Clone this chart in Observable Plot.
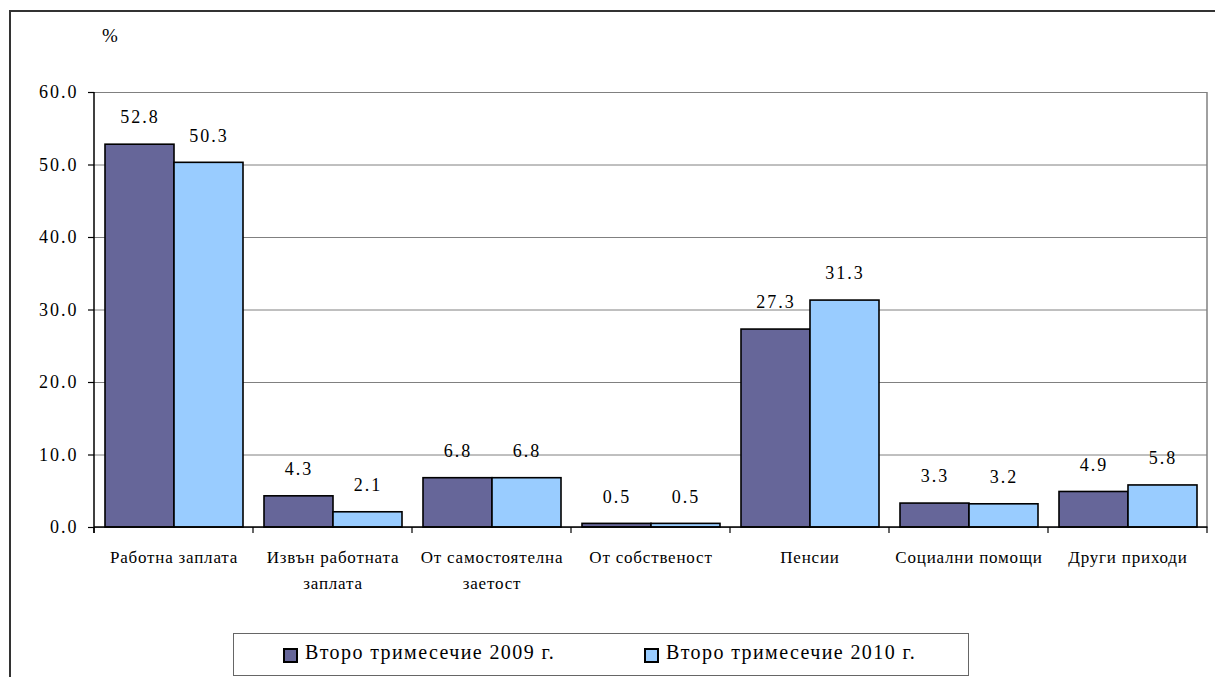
<!DOCTYPE html>
<html><head><meta charset="utf-8">
<script src="https://cdn.jsdelivr.net/npm/d3@7"></script>
<script src="https://cdn.jsdelivr.net/npm/@observablehq/plot@0.6"></script>
<style>
body{margin:0;background:#fff;}
#wrap{position:relative;width:1215px;height:677px;overflow:hidden;background:#fff;font-family:'Liberation Serif';}
#frame{position:absolute;left:9px;top:10px;width:1240px;height:720px;border:2px solid #333;box-sizing:border-box;}
#chart{position:absolute;left:0;top:0;}
#pct{position:absolute;left:102px;top:25px;font-size:19px;line-height:1.15;}
#legend{position:absolute;left:233px;top:633px;width:736px;height:43px;border:1px solid #666;box-sizing:border-box;}
.sw{position:absolute;top:14px;width:15px;height:15px;border:2px solid #000;box-sizing:border-box;}
.lt{position:absolute;top:7.5px;font-size:20px;line-height:20px;letter-spacing:1.4px;white-space:nowrap;}
</style></head><body>
<div id="wrap" style="font-family:'Liberation Serif'"><div id="frame"></div><div id="chart"></div><div id="pct" style="font-family:'Liberation Serif'">%</div><div id="legend"></div></div>
<script>
const categories = ["Работна заплата", "Извън работната заплата", "От самостоятелна заетост", "От собственост", "Пенсии", "Социални помощи", "Други приходи"];
const categoryLabels = ["Работна заплата", "Извън работната\nзаплата", "От самостоятелна\nзаетост", "От собственост", "Пенсии", "Социални помощи", "Други приходи"];
const series = ["Второ тримесечие 2009 г.", "Второ тримесечие 2010 г."];
const values2009 = [52.8, 4.3, 6.8, 0.5, 27.3, 3.3, 4.9];
const values2010 = [50.3, 2.1, 6.8, 0.5, 31.3, 3.2, 5.8];
const yTicks = [0, 10, 20, 30, 40, 50, 60];
const colors = ["#666699", "#99CCFF"];

const data = [];
categories.forEach((c, i) => {
  data.push({category: c, series: series[0], value: values2009[i]});
  data.push({category: c, series: series[1], value: values2010[i]});
});
const labelOf = new Map(categories.map((c, i) => [c, categoryLabels[i]]));
const fmt = d3.format(".1f");
const serif = "Liberation Serif";

const plot = Plot.plot({
  width: 1215,
  height: 628,
  marginLeft: 91,
  marginRight: 6,
  marginTop: 92,
  marginBottom: 101,
  style: {fontFamily: serif, fontSize: "18px", background: "transparent", color: "#000"},
  fx: {domain: categories, padding: 0, label: null, axis: null},
  x: {domain: series, paddingInner: 0, paddingOuter: 0.14, axis: null},
  y: {domain: [0, 60], label: null},
  color: {domain: series, range: colors},
  marks: [
    Plot.gridY(yTicks, {stroke: "#808080", strokeOpacity: 1, strokeWidth: 1}),
    Plot.barY(data, {fx: "category", x: "series", y: "value", fill: "series", stroke: "#000", strokeWidth: 1.6}),
    Plot.text(data, {fx: "category", x: "series", y: "value", text: d => fmt(d.value), dy: -27, fontSize: 18, fontFamily: serif, fill: "#000"}),
    Plot.axisY(yTicks, {tickFormat: fmt, tickSize: 6, tickPadding: 10, fontSize: 18, fontFamily: serif, stroke: "#000", strokeWidth: 1.2}),
    Plot.axisFx({anchor: "bottom", tickSize: 0, tickPadding: 17, tickFormat: c => labelOf.get(c), fontSize: 17, fontFamily: serif, lineHeight: 1.52})
  ]
});
document.getElementById("chart").appendChild(plot);

const svg = d3.select(plot);
svg.selectAll('g[aria-label="y-axis tick label"] text').style("letter-spacing", "2px");
svg.selectAll('g[aria-label="text"] text').style("letter-spacing", "2px");
svg.selectAll('g[aria-label="fx-axis tick label"] text').style("letter-spacing", "0.8px");

// axis lines, category boundary ticks and plot-area border drawn from the plot's own scales
const fx = plot.scale("fx"), y = plot.scale("y");
const x0 = fx.apply(categories[0]);
const xEnd = fx.apply(categories[categories.length - 1]) + fx.bandwidth;
const yTop = y.apply(60), yBase = y.apply(0);
const g = svg.append("g");
g.append("line").attr("x1", xEnd).attr("x2", xEnd).attr("y1", yTop).attr("y2", yBase).attr("stroke", "#808080").attr("stroke-width", 1.5);
g.append("line").attr("x1", x0).attr("x2", xEnd + 0.5).attr("y1", yBase).attr("y2", yBase).attr("stroke", "#000").attr("stroke-width", 1.5);
g.append("line").attr("x1", x0).attr("x2", x0).attr("y1", yTop).attr("y2", yBase + 6).attr("stroke", "#000").attr("stroke-width", 1.5);
const bounds = categories.map(c => fx.apply(c)).concat([xEnd]);
g.selectAll(".bt").data(bounds).join("line").attr("x1", d => d).attr("x2", d => d).attr("y1", yBase).attr("y2", yBase + 6).attr("stroke", "#000").attr("stroke-width", 1.2);

// legend
const legend = document.getElementById("legend");
const swLeft = [49, 410], textLeft = [71, 432];
series.forEach((s, i) => {
  const sw = document.createElement("span");
  sw.className = "sw";
  sw.style.left = swLeft[i] + "px";
  sw.style.background = colors[i];
  legend.appendChild(sw);
  const t = document.createElement("span");
  t.className = "lt";
  t.style.left = textLeft[i] + "px";
  t.style.fontFamily = "'Liberation Serif'";
  t.textContent = s;
  legend.appendChild(t);
});
</script>
</body></html>
